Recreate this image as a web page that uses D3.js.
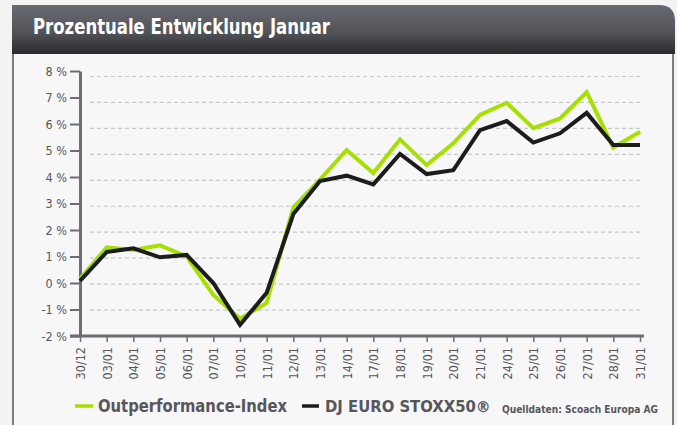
<!DOCTYPE html>
<html>
<head>
<meta charset="utf-8">
<script src="https://cdn.jsdelivr.net/npm/d3@7"></script>
<style>
  body { margin: 0; background: #f3f3f3; }
  svg { display: block; }
</style>
</head>
<body>
<div id="chart"></div>
<script>
// data (percent change since 30/12)
var dates = ["30/12", "03/01", "04/01", "05/01", "06/01", "07/01", "10/01", "11/01",
             "12/01", "13/01", "14/01", "17/01", "18/01", "19/01", "20/01", "21/01",
             "24/01", "25/01", "26/01", "27/01", "28/01", "31/01"];
var outperf = [0.15, 1.35, 1.25, 1.42, 1.0, -0.45, -1.35, -0.75,
               2.86, 3.9, 5.02, 4.15, 5.42, 4.45, 5.27, 6.34,
               6.8, 5.84, 6.21, 7.2, 5.11, 5.71];
var stoxx = [0.08, 1.17, 1.31, 0.97, 1.06, 0.0, -1.58, -0.37,
             2.6, 3.85, 4.05, 3.72, 4.87, 4.11, 4.26, 5.77,
             6.11, 5.3, 5.65, 6.42, 5.21, 5.21];
var yTicks = [-2, -1, 0, 1, 2, 3, 4, 5, 6, 7, 8];
var gridValues = [-1, 0, 1, 2, 3, 4, 5, 6, 7, 8];

var W = 677, H = 425;
var green = "#a6df00", black = "#1c1c1c", axisCol = "#6c6c72", textCol = "#56565c";
var condensed = "'Liberation Sans Narrow', 'DejaVu Sans Condensed', 'Roboto', sans-serif";

var svg = d3.select("#chart").append("svg")
    .attr("width", W)
    .attr("height", H);

// title bar gradient
var defs = svg.append("defs");
var grad = defs.append("linearGradient")
    .attr("id", "titleGrad")
    .attr("x1", 0).attr("y1", 0).attr("x2", 0).attr("y2", 1);
grad.append("stop").attr("offset", "0%").attr("stop-color", "#696a71");
grad.append("stop").attr("offset", "55%").attr("stop-color", "#53545a");
grad.append("stop").attr("offset", "100%").attr("stop-color", "#2a2a2b");

// panel below the title
svg.append("rect")
    .attr("x", 13).attr("y", 50)
    .attr("width", 660).attr("height", 390)
    .attr("fill", "#f7f7f7")
    .attr("stroke", "#7b7b80")
    .attr("stroke-width", 2);

// title bar with rounded top-right corner
var tx0 = 12, tx1 = 675, ty0 = 5, ty1 = 54, r = 16;
svg.append("path")
    .attr("d", "M" + tx0 + "," + ty0 + " H" + (tx1 - r) +
      " Q" + tx1 + "," + ty0 + " " + tx1 + "," + (ty0 + r) +
      " V" + ty1 + " H" + tx0 + " Z")
    .attr("fill", "url(#titleGrad)");

svg.append("text")
    .attr("x", 33).attr("y", 34)
    .attr("fill", "#ffffff")
    .style("font-family", condensed)
    .style("font-weight", "bold")
    .style("font-size", "21px")
    .attr("textLength", 297)
    .attr("lengthAdjust", "spacingAndGlyphs")
    .text("Prozentuale Entwicklung Januar");

// scales
var x = d3.scalePoint().domain(dates).range([80, 640]);
var y = d3.scaleLinear().domain([-2, 8]).range([336, 71]);
var yGrid = d3.scaleLinear().domain([-2, 8]).range([336, 76.5]);

// dashed gridlines
svg.append("g")
    .selectAll("line")
    .data(gridValues)
    .enter()
    .append("line")
      .attr("x1", 90).attr("x2", 640)
      .attr("y1", function (d) { return yGrid(d); })
      .attr("y2", function (d) { return yGrid(d); })
      .attr("stroke", "#c8c8c8")
      .attr("stroke-width", 1.2)
      .attr("stroke-dasharray", "4,3");

// y axis
var yAxis = svg.append("g")
    .attr("transform", "translate(80,0)")
    .call(d3.axisLeft(y).tickValues(yTicks).tickSize(10).tickSizeOuter(0).tickPadding(3)
      .tickFormat(function (d) { return d + " %"; }));
yAxis.select(".domain").attr("stroke", axisCol).attr("stroke-width", 3);
yAxis.selectAll(".tick line").attr("stroke", axisCol).attr("stroke-width", 2);
yAxis.selectAll(".tick text")
    .attr("fill", textCol)
    .style("font-family", "'DejaVu Sans Condensed', 'Liberation Sans Narrow', sans-serif")
    .style("font-size", "12.5px");

// x axis
var xAxis = svg.append("g")
    .attr("transform", "translate(0,336)")
    .call(d3.axisBottom(x).tickSize(6).tickSizeOuter(0).tickPadding(4));
xAxis.select(".domain").remove();
xAxis.append("line")
    .attr("x1", x(dates[0]) - 10).attr("x2", x(dates[dates.length - 1]) + 4)
    .attr("y1", 0).attr("y2", 0)
    .attr("stroke", axisCol).attr("stroke-width", 3);
xAxis.selectAll(".tick line").attr("stroke", axisCol).attr("stroke-width", 1.5);
xAxis.selectAll(".tick text")
    .attr("fill", textCol)
    .attr("transform", "rotate(-90)")
    .attr("text-anchor", "end")
    .attr("x", -11).attr("y", 0).attr("dy", "0.35em")
    .style("font-family", "'DejaVu Sans Condensed', 'Liberation Sans Narrow', sans-serif")
    .style("font-size", "12.5px");

// lines
var line = d3.line()
    .x(function (d, i) { return x(dates[i]); })
    .y(function (d) { return y(d); });

svg.append("path")
    .datum(outperf)
    .attr("d", line)
    .attr("fill", "none")
    .attr("stroke", green)
    .attr("stroke-width", 4);

svg.append("path")
    .datum(stoxx)
    .attr("d", line)
    .attr("fill", "none")
    .attr("stroke", black)
    .attr("stroke-width", 4);

// legend
var legend = svg.append("g").style("font-family", condensed).style("font-weight", "bold");
legend.append("line")
    .attr("x1", 75).attr("x2", 93).attr("y1", 406).attr("y2", 406)
    .attr("stroke", green).attr("stroke-width", 3.5);
legend.append("text")
    .attr("x", 98).attr("y", 412)
    .attr("fill", textCol)
    .style("font-size", "18px")
    .attr("textLength", 189)
    .attr("lengthAdjust", "spacingAndGlyphs")
    .text("Outperformance-Index");
legend.append("line")
    .attr("x1", 302).attr("x2", 319).attr("y1", 406).attr("y2", 406)
    .attr("stroke", black).attr("stroke-width", 3.5);
legend.append("text")
    .attr("x", 325).attr("y", 412)
    .attr("fill", textCol)
    .style("font-size", "16.5px")
    .text("DJ EURO STOXX50\u00AE");
legend.append("text")
    .attr("x", 502).attr("y", 413)
    .attr("fill", textCol)
    .style("font-size", "11px")
    .attr("textLength", 156)
    .attr("lengthAdjust", "spacingAndGlyphs")
    .text("Quelldaten: Scoach Europa AG");
</script>
</body>
</html>
